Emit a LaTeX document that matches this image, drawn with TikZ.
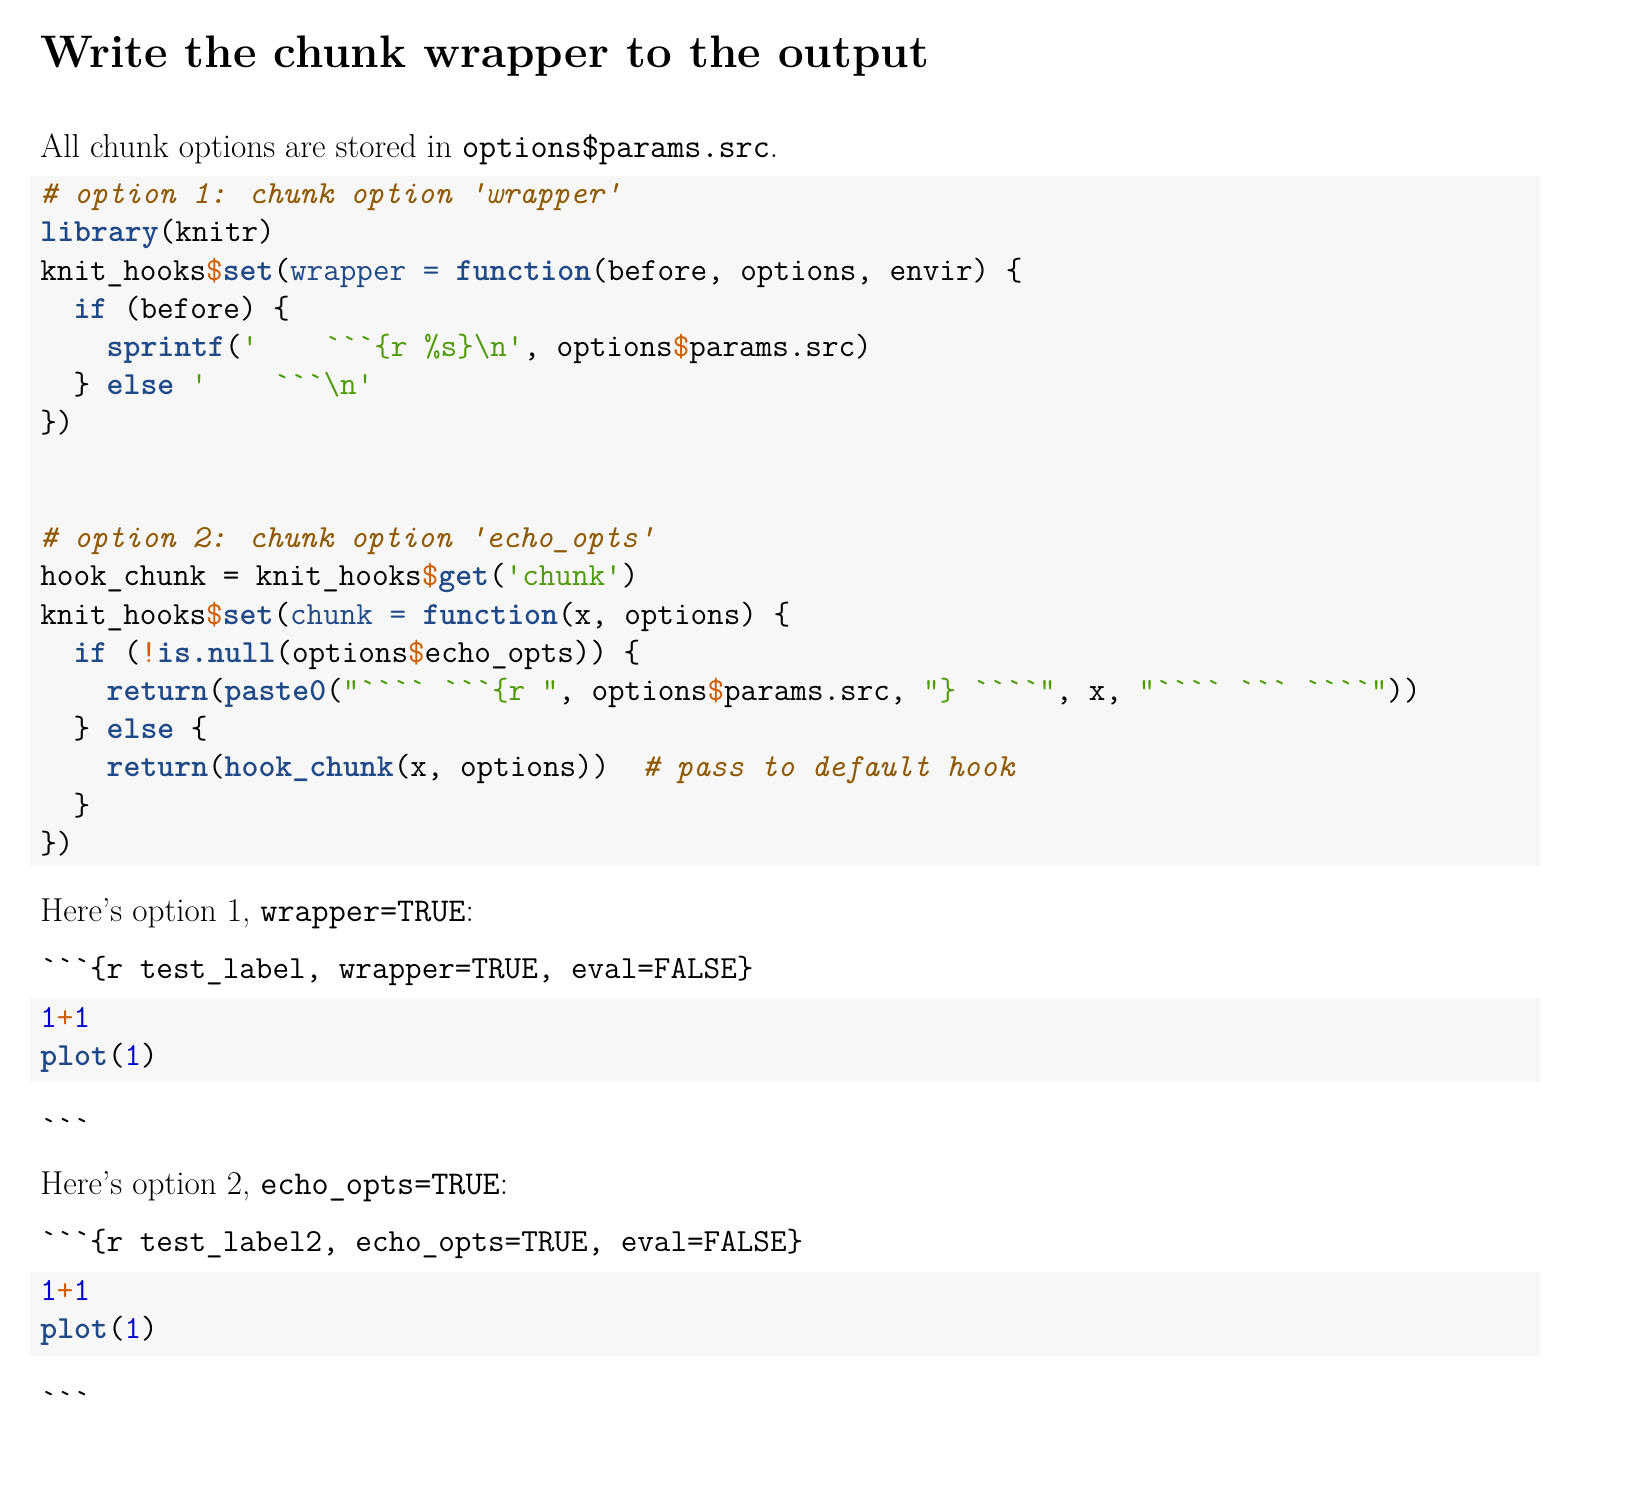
\documentclass[tikz,border=0pt]{standalone}
\usepackage{fontspec}
\usepackage{xcolor}
\definecolor{cmtc}{HTML}{8F5902}
\definecolor{kwc}{HTML}{204A87}
\definecolor{strc}{HTML}{4E9A06}
\definecolor{opc}{HTML}{CE5C00}
\definecolor{numc}{HTML}{0000CF}
\definecolor{shadec}{HTML}{F7F7F7}
\newcommand\cmnt[1]{\textcolor{cmtc}{\itshape #1}}
\newcommand\kwd[1]{\textcolor{kwc}{\bfseries #1}}
\newcommand\fnc[1]{\textcolor{kwc}{#1}}
\newcommand\strg[1]{\textcolor{strc}{#1}}
\newcommand\opr[1]{\textcolor{opc}{#1}}
\newcommand\numb[1]{\textcolor{numc}{#1}}
\newcommand\bsn{\textbackslash n}
\tikzset{
  code/.style={anchor=base west, inner sep=0pt, font=\fontsize{16.1}{19}\selectfont\ttfamily},
  body/.style={anchor=base west, inner sep=0pt, font=\fontsize{16.6}{19}\selectfont},
  shade/.style={fill=shadec, draw=none}
}
\begin{document}
\begin{tikzpicture}[x=0.5pt,y=-0.5pt]
\useasboundingbox (0,0) rectangle (1640,1488);
% background boxes
\fill[shade] (30,176) rectangle (1540,866);
\fill[shade] (30,998) rectangle (1540,1082);
\fill[shade] (30,1272) rectangle (1540,1356);
% heading and prose
\node[anchor=base west, inner sep=0pt, font=\fontsize{22.8}{25}\selectfont\bfseries] (title) at (40,68) {Write the chunk wrapper to the output};
\node[body] (intro) at (40,157) {All chunk options are stored in \texttt{options\$params.src}.};
% first chunk
\node[code] (l1) at (40,203) {\cmnt{\# option 1: chunk option 'wrapper'}};
\node[code] (l2) at (40,241) {\kwd{library}(knitr)};
\node[code] (l3) at (40,280) {knit\_hooks\opr{\$}\kwd{set}(\fnc{wrapper =} \kwd{function}(before, options, envir) \{};
\node[code] (l4) at (40,318) {\ \ \kwd{if} (before) \{};
\node[code] (l5) at (40,356) {\ \ \ \ \kwd{sprintf}(\strg{'\ \ \ \ ```\{r \%s\}\bsn'}, options\opr{\$}params.src)};
\node[code] (l6) at (40,394) {\ \ \} \kwd{else} \strg{'\ \ \ \ ```\bsn'}};
\node[code] (l7) at (40,432) {\})};
\node[code] (l8) at (40,547) {\cmnt{\# option 2: chunk option 'echo\_opts'}};
\node[code] (l9) at (40,585) {hook\_chunk = knit\_hooks\opr{\$}\kwd{get}(\strg{'chunk'})};
\node[code] (l10) at (40,624) {knit\_hooks\opr{\$}\kwd{set}(\fnc{chunk =} \kwd{function}(x, options) \{};
\node[code] (l11) at (40,662) {\ \ \kwd{if} (\opr{!}\kwd{is.null}(options\opr{\$}echo\_opts)) \{};
\node[code] (l12) at (40,700) {\ \ \ \ \kwd{return}(\kwd{paste0}(\strg{"```` ```\{r "}, options\opr{\$}params.src, \strg{"\} ````"}, x, \strg{"```` ``` ````"}))};
\node[code] (l13) at (40,738) {\ \ \} \kwd{else} \{};
\node[code] (l14) at (40,776) {\ \ \ \ \kwd{return}(\kwd{hook\_chunk}(x, options))\ \ \cmnt{\# pass to default hook}};
\node[code] (l15) at (40,815) {\ \ \}};
\node[code] (l16) at (40,853) {\})};
% option 1
\node[body] (opt1) at (40,921) {Here’s option 1, \texttt{wrapper=TRUE}:};
\node[code] (head1) at (40,978) {```\{r test\_label, wrapper=TRUE, eval=FALSE\}};
\node[code] (a1) at (40,1027) {\numb{1}\opr{+}\numb{1}};
\node[code] (a2) at (40,1065) {\kwd{plot}(\numb{1})};
\node[code] (end1) at (40,1138) {```};
% option 2
\node[body] (opt2) at (40,1194) {Here’s option 2, \texttt{echo\_opts=TRUE}:};
\node[code] (head2) at (40,1251) {```\{r test\_label2, echo\_opts=TRUE, eval=FALSE\}};
\node[code] (b1) at (40,1300) {\numb{1}\opr{+}\numb{1}};
\node[code] (b2) at (40,1338) {\kwd{plot}(\numb{1})};
\node[code] (end2) at (40,1411) {```};
\end{tikzpicture}
\end{document}
